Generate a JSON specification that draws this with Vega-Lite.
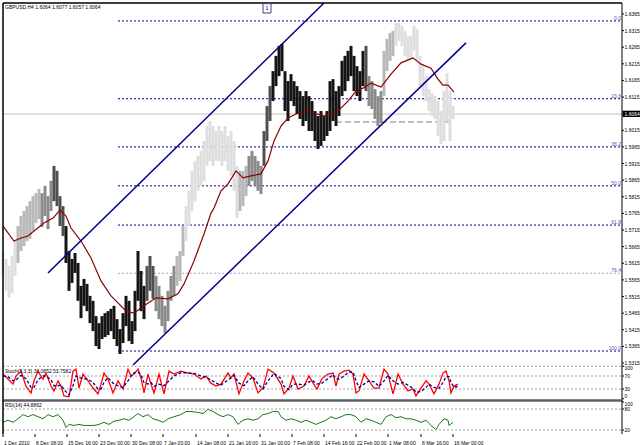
{
  "$schema": "https://vega.github.io/schema/vega-lite/v6.json",
  "padding": 0,
  "background": "white",
  "spacing": 0,
  "bounds": "flush",
  "config": {"view": {"stroke": null}, "font": "Liberation Sans", "axis": {"title": null}},
  "datasets": {
    "price": [
      {"b":2,"h":1.5652,"l":1.5577,"t":"e"},{"b":5,"h":1.5628,"l":1.5532,"t":"e"},{"b":8,"h":1.5607,"l":1.5511,"t":"e"},{"b":11,"h":1.5637,"l":1.5526,"t":"e"},{"b":14,"h":1.5682,"l":1.5577,"t":"e"},
      {"b":17,"h":1.5727,"l":1.5616,"t":"d"},{"b":20,"h":1.5757,"l":1.5652,"t":"d"},{"b":23,"h":1.5772,"l":1.5667,"t":"d"},{"b":26,"h":1.5787,"l":1.5682,"t":"d"},{"b":29,"h":1.5802,"l":1.5688,"t":"d"},
      {"b":32,"h":1.5817,"l":1.5712,"t":"d"},{"b":35,"h":1.5826,"l":1.5736,"t":"d"},{"b":38,"h":1.5839,"l":1.5748,"t":"d"},{"b":41,"h":1.5826,"l":1.5724,"t":"c"},{"b":44,"h":1.5848,"l":1.5757,"t":"c"},
      {"b":47,"h":1.5817,"l":1.5718,"t":"c"},{"b":50,"h":1.5863,"l":1.5772,"t":"c"},{"b":53,"h":1.5908,"l":1.5802,"t":"b"},{"b":56,"h":1.5893,"l":1.5787,"t":"b"},{"b":59,"h":1.5817,"l":1.5727,"t":"b"},
      {"b":62,"h":1.5787,"l":1.5697,"t":"b"},{"b":65,"h":1.5727,"l":1.5616,"t":"a"},{"b":68,"h":1.5652,"l":1.5532,"t":"a"},{"b":71,"h":1.5628,"l":1.5556,"t":"a"},{"b":74,"h":1.5646,"l":1.5586,"t":"a"},
      {"b":77,"h":1.5616,"l":1.5502,"t":"a"},{"b":80,"h":1.5547,"l":1.5450,"t":"a"},{"b":83,"h":1.5568,"l":1.5487,"t":"a"},{"b":86,"h":1.5553,"l":1.5471,"t":"a"},{"b":89,"h":1.5517,"l":1.5435,"t":"a"},
      {"b":92,"h":1.5502,"l":1.5411,"t":"a"},{"b":95,"h":1.5456,"l":1.5366,"t":"a"},{"b":98,"h":1.5435,"l":1.5357,"t":"a"},{"b":101,"h":1.5456,"l":1.5387,"t":"a"},{"b":104,"h":1.5465,"l":1.5393,"t":"a"},
      {"b":107,"h":1.5471,"l":1.5399,"t":"a"},{"b":110,"h":1.5478,"l":1.5411,"t":"a"},{"b":113,"h":1.5487,"l":1.5387,"t":"a"},{"b":116,"h":1.5447,"l":1.5366,"t":"a"},{"b":119,"h":1.5417,"l":1.5342,"t":"a"},
      {"b":122,"h":1.5465,"l":1.5375,"t":"a"},{"b":125,"h":1.5517,"l":1.5426,"t":"a"},{"b":128,"h":1.5502,"l":1.5381,"t":"a"},{"b":131,"h":1.5441,"l":1.5372,"t":"a"},{"b":134,"h":1.5532,"l":1.5411,"t":"a"},
      {"b":137,"h":1.5652,"l":1.5502,"t":"a"},{"b":140,"h":1.5592,"l":1.5471,"t":"a"},{"b":143,"h":1.5547,"l":1.5447,"t":"a"},{"b":146,"h":1.5607,"l":1.5502,"t":"b"},{"b":149,"h":1.5637,"l":1.5532,"t":"b"},
      {"b":152,"h":1.5607,"l":1.5508,"t":"b"},{"b":155,"h":1.5577,"l":1.5471,"t":"c"},{"b":158,"h":1.5547,"l":1.5447,"t":"c"},{"b":161,"h":1.5517,"l":1.5426,"t":"c"},{"b":164,"h":1.5487,"l":1.5405,"t":"c"},
      {"b":167,"h":1.5532,"l":1.5441,"t":"c"},{"b":170,"h":1.5577,"l":1.5502,"t":"c"},{"b":173,"h":1.5607,"l":1.5517,"t":"c"},{"b":176,"h":1.5637,"l":1.5547,"t":"d"},{"b":179,"h":1.5652,"l":1.5562,"t":"d"},
      {"b":182,"h":1.5727,"l":1.5637,"t":"d"},{"b":185,"h":1.5787,"l":1.5682,"t":"e"},{"b":188,"h":1.5833,"l":1.5727,"t":"e"},{"b":191,"h":1.5893,"l":1.5772,"t":"e"},{"b":194,"h":1.5923,"l":1.5802,"t":"e"},
      {"b":197,"h":1.5938,"l":1.5833,"t":"e"},{"b":200,"h":1.5953,"l":1.5848,"t":"e"},{"b":203,"h":1.5983,"l":1.5863,"t":"e"},{"b":206,"h":1.6028,"l":1.5908,"t":"e"},{"b":209,"h":1.6043,"l":1.5923,"t":"e"},
      {"b":212,"h":1.6028,"l":1.5908,"t":"e"},{"b":215,"h":1.6013,"l":1.5923,"t":"e"},{"b":218,"h":1.6028,"l":1.5923,"t":"e"},{"b":221,"h":1.6013,"l":1.5908,"t":"e"},{"b":224,"h":1.6028,"l":1.5923,"t":"e"},
      {"b":227,"h":1.5998,"l":1.5893,"t":"e"},{"b":230,"h":1.6013,"l":1.5878,"t":"e"},{"b":233,"h":1.5983,"l":1.5833,"t":"e"},{"b":236,"h":1.5908,"l":1.5751,"t":"e"},{"b":239,"h":1.5893,"l":1.5772,"t":"d"},
      {"b":242,"h":1.5893,"l":1.5787,"t":"d"},{"b":245,"h":1.5908,"l":1.5817,"t":"d"},{"b":248,"h":1.5938,"l":1.5848,"t":"c"},{"b":251,"h":1.5953,"l":1.5863,"t":"c"},{"b":254,"h":1.5938,"l":1.5848,"t":"c"},
      {"b":257,"h":1.5923,"l":1.5833,"t":"c"},{"b":260,"h":1.5908,"l":1.5823,"t":"c"},{"b":263,"h":1.6013,"l":1.5908,"t":"b"},{"b":266,"h":1.6088,"l":1.5983,"t":"b"},{"b":269,"h":1.6148,"l":1.6043,"t":"b"},
      {"b":272,"h":1.6193,"l":1.6103,"t":"a"},{"b":275,"h":1.6239,"l":1.6148,"t":"a"},{"b":278,"h":1.6269,"l":1.6178,"t":"a"},{"b":281,"h":1.6275,"l":1.6193,"t":"a"},{"b":284,"h":1.6193,"l":1.6073,"t":"a"},
      {"b":287,"h":1.6163,"l":1.6043,"t":"a"},{"b":290,"h":1.6184,"l":1.6103,"t":"a"},{"b":293,"h":1.6163,"l":1.6088,"t":"a"},{"b":296,"h":1.6148,"l":1.6064,"t":"a"},{"b":299,"h":1.6133,"l":1.6049,"t":"a"},
      {"b":302,"h":1.6118,"l":1.6028,"t":"a"},{"b":305,"h":1.6133,"l":1.6043,"t":"a"},{"b":308,"h":1.6118,"l":1.6013,"t":"a"},{"b":311,"h":1.6103,"l":1.6013,"t":"a"},{"b":314,"h":1.6073,"l":1.5983,"t":"a"},
      {"b":317,"h":1.6058,"l":1.5959,"t":"a"},{"b":320,"h":1.6073,"l":1.5968,"t":"a"},{"b":323,"h":1.6058,"l":1.5983,"t":"a"},{"b":326,"h":1.6073,"l":1.5998,"t":"a"},{"b":329,"h":1.6163,"l":1.6013,"t":"a"},
      {"b":332,"h":1.6169,"l":1.6043,"t":"a"},{"b":335,"h":1.6133,"l":1.6028,"t":"a"},{"b":338,"h":1.6148,"l":1.6058,"t":"a"},{"b":341,"h":1.6224,"l":1.6118,"t":"a"},{"b":344,"h":1.6239,"l":1.6133,"t":"a"},
      {"b":347,"h":1.6254,"l":1.6163,"t":"a"},{"b":350,"h":1.6269,"l":1.6178,"t":"a"},{"b":353,"h":1.6239,"l":1.6133,"t":"a"},{"b":356,"h":1.6208,"l":1.6118,"t":"a"},{"b":359,"h":1.6193,"l":1.6103,"t":"a"},
      {"b":362,"h":1.6254,"l":1.6148,"t":"a"},{"b":365,"h":1.6269,"l":1.6133,"t":"b"},{"b":368,"h":1.6178,"l":1.6088,"t":"c"},{"b":371,"h":1.6163,"l":1.6079,"t":"c"},{"b":374,"h":1.6139,"l":1.6049,"t":"c"},
      {"b":377,"h":1.6118,"l":1.6028,"t":"c"},{"b":380,"h":1.6133,"l":1.6037,"t":"c"},{"b":383,"h":1.6254,"l":1.6118,"t":"d"},{"b":386,"h":1.6290,"l":1.6193,"t":"d"},{"b":389,"h":1.6308,"l":1.6224,"t":"d"},
      {"b":392,"h":1.6314,"l":1.6239,"t":"d"},{"b":395,"h":1.6338,"l":1.6269,"t":"e"},{"b":398,"h":1.6338,"l":1.6284,"t":"e"},{"b":401,"h":1.6329,"l":1.6269,"t":"e"},{"b":404,"h":1.6314,"l":1.6239,"t":"e"},
      {"b":407,"h":1.6299,"l":1.6224,"t":"e"},{"b":410,"h":1.6299,"l":1.6229,"t":"e"},{"b":413,"h":1.6329,"l":1.6254,"t":"e"},{"b":416,"h":1.6320,"l":1.6224,"t":"e"},{"b":419,"h":1.6239,"l":1.6148,"t":"e"},
      {"b":422,"h":1.6208,"l":1.6118,"t":"e"},{"b":425,"h":1.6178,"l":1.6103,"t":"e"},{"b":428,"h":1.6139,"l":1.6073,"t":"e"},{"b":431,"h":1.6127,"l":1.6058,"t":"e"},{"b":434,"h":1.6118,"l":1.6049,"t":"e"},
      {"b":437,"h":1.6103,"l":1.5998,"t":"e"},{"b":440,"h":1.6073,"l":1.5974,"t":"e"},{"b":443,"h":1.6133,"l":1.5983,"t":"e"},{"b":446,"h":1.6187,"l":1.6043,"t":"e"},{"b":449,"h":1.6133,"l":1.5983,"t":"e"},
      {"b":452,"h":1.6088,"l":1.6049,"t":"e"}
    ],
    "ma": [
      {"b":2,"m":1.5727},{"b":13,"m":1.5682},{"b":20,"m":1.5691},{"b":27,"m":1.5697},{"b":33,"m":1.5712},{"b":43,"m":1.5736},{"b":52,"m":1.5751},{"b":59,"m":1.5775},{"b":65,"m":1.5757},{"b":70,"m":1.5721},
      {"b":80,"m":1.5682},{"b":90,"m":1.5631},{"b":100,"m":1.5562},{"b":110,"m":1.5517},{"b":118,"m":1.5493},{"b":125,"m":1.5471},{"b":133,"m":1.5465},{"b":143,"m":1.5487},{"b":155,"m":1.5511},{"b":167,"m":1.5508},
      {"b":177,"m":1.5523},{"b":183,"m":1.5553},{"b":193,"m":1.5622},{"b":203,"m":1.5703},{"b":210,"m":1.5766},{"b":213,"m":1.5781},{"b":220,"m":1.5833},{"b":227,"m":1.5854},{"b":235,"m":1.5893},{"b":242,"m":1.5872},
      {"b":250,"m":1.5878},{"b":260,"m":1.5884},{"b":267,"m":1.5923},{"b":273,"m":1.5983},{"b":280,"m":1.6028},{"b":287,"m":1.6052},{"b":297,"m":1.6067},{"b":307,"m":1.6073},{"b":313,"m":1.6067},{"b":323,"m":1.6058},
      {"b":330,"m":1.6064},{"b":337,"m":1.6073},{"b":347,"m":1.6103},{"b":355,"m":1.6133},{"b":362,"m":1.6142},{"b":370,"m":1.6157},{"b":380,"m":1.6145},{"b":390,"m":1.6184},{"b":400,"m":1.6218},{"b":412,"m":1.6233},
      {"b":420,"m":1.6214},{"b":430,"m":1.6202},{"b":437,"m":1.6169},{"b":442,"m":1.6151},{"b":447,"m":1.6151},{"b":453,"m":1.6130}
    ],
    "fib": [
      {"lv":"0.0","p":1.6344},{"lv":"23.6","p":1.6110},{"lv":"38.2","p":1.5965},{"lv":"50.0","p":1.5848},{"lv":"61.8","p":1.5730},{"lv":"76.4","p":1.5585},{"lv":"100.0","p":1.5351}
    ],
    "channel": [
      {"id":"up","b":47,"p":1.5586},{"id":"up","b":323,"p":1.6398},{"id":"lo","b":132,"p":1.5309},{"id":"lo","b":465,"p":1.6278}
    ],
    "ptick": [
      {"v":1.5315},{"v":1.5365},{"v":1.5415},{"v":1.5465},{"v":1.5515},{"v":1.5565},{"v":1.5615},{"v":1.5665},{"v":1.5715},{"v":1.5765},{"v":1.5815},
      {"v":1.5865},{"v":1.5915},{"v":1.5965},{"v":1.6015},{"v":1.6115},{"v":1.6165},{"v":1.6215},{"v":1.6265},{"v":1.6315},{"v":1.6365}
    ],
    "xtick": [
      {"b":2,"lab":"1 Dec 2010"},{"b":34,"lab":"8 Dec 08:00"},{"b":66,"lab":"15 Dec 16:00"},{"b":98,"lab":"23 Dec 00:00"},{"b":130,"lab":"30 Dec 08:00"},
      {"b":162,"lab":"7 Jan 00:00"},{"b":195,"lab":"14 Jan 08:00"},{"b":227,"lab":"21 Jan 16:00"},{"b":259,"lab":"31 Jan 00:00"},{"b":291,"lab":"7 Feb 08:00"},
      {"b":323,"lab":"14 Feb 16:00"},{"b":355,"lab":"22 Feb 00:00"},{"b":387,"lab":"1 Mar 08:00"},{"b":420,"lab":"8 Mar 16:00"},{"b":452,"lab":"16 Mar 00:00"}
    ],
    "stoch": [
      {"b":2,"k":76,"d":70},{"b":7,"k":61,"d":68},{"b":12,"k":45,"d":55},{"b":15,"k":70,"d":58},{"b":20,"k":85,"d":72},{"b":25,"k":39,"d":62},{"b":30,"k":18,"d":35},{"b":33,"k":55,"d":35},
      {"b":37,"k":85,"d":58},{"b":42,"k":60,"d":70},{"b":45,"k":79,"d":70},{"b":50,"k":39,"d":58},{"b":53,"k":24,"d":40},{"b":57,"k":55,"d":40},{"b":60,"k":39,"d":42},{"b":63,"k":9,"d":28},
      {"b":68,"k":6,"d":12},{"b":72,"k":85,"d":40},{"b":75,"k":91,"d":70},{"b":78,"k":33,"d":65},{"b":82,"k":76,"d":62},{"b":87,"k":55,"d":60},{"b":92,"k":33,"d":50},{"b":97,"k":15,"d":30},
      {"b":100,"k":45,"d":30},{"b":103,"k":79,"d":50},{"b":107,"k":61,"d":65},{"b":112,"k":18,"d":48},{"b":117,"k":55,"d":40},{"b":122,"k":30,"d":35},{"b":127,"k":91,"d":55},{"b":130,"k":70,"d":70},
      {"b":133,"k":76,"d":80},{"b":137,"k":91,"d":82},{"b":140,"k":64,"d":75},{"b":143,"k":18,"d":50},{"b":147,"k":76,"d":45},{"b":150,"k":45,"d":50},{"b":153,"k":18,"d":38},{"b":158,"k":76,"d":45},
      {"b":163,"k":15,"d":40},{"b":168,"k":85,"d":55},{"b":173,"k":76,"d":70},{"b":180,"k":85,"d":80},{"b":187,"k":79,"d":80},{"b":193,"k":76,"d":78},{"b":200,"k":61,"d":70},{"b":205,"k":70,"d":66},
      {"b":210,"k":48,"d":58},{"b":215,"k":39,"d":48},{"b":220,"k":45,"d":42},{"b":227,"k":79,"d":58},{"b":230,"k":64,"d":65},{"b":233,"k":76,"d":72},{"b":238,"k":15,"d":48},{"b":243,"k":55,"d":40},
      {"b":247,"k":79,"d":55},{"b":252,"k":64,"d":68},{"b":257,"k":18,"d":45},{"b":262,"k":33,"d":30},{"b":267,"k":91,"d":55},{"b":273,"k":79,"d":78},{"b":280,"k":45,"d":62},{"b":283,"k":15,"d":38},
      {"b":288,"k":33,"d":28},{"b":292,"k":70,"d":45},{"b":297,"k":30,"d":45},{"b":303,"k":39,"d":42},{"b":308,"k":70,"d":52},{"b":312,"k":48,"d":55},{"b":316,"k":30,"d":45},{"b":321,"k":62,"d":48},
      {"b":327,"k":76,"d":62},{"b":332,"k":79,"d":74},{"b":335,"k":39,"d":62},{"b":338,"k":76,"d":60},{"b":343,"k":85,"d":70},{"b":348,"k":88,"d":83},{"b":352,"k":76,"d":82},{"b":355,"k":18,"d":55},
      {"b":358,"k":24,"d":35},{"b":363,"k":76,"d":45},{"b":368,"k":55,"d":55},{"b":373,"k":33,"d":52},{"b":378,"k":33,"d":38},{"b":383,"k":91,"d":55},{"b":387,"k":76,"d":72},{"b":392,"k":15,"d":55},
      {"b":397,"k":76,"d":45},{"b":402,"k":45,"d":50},{"b":407,"k":24,"d":42},{"b":412,"k":30,"d":32},{"b":415,"k":9,"d":20},{"b":420,"k":33,"d":22},{"b":425,"k":55,"d":35},{"b":428,"k":45,"d":45},
      {"b":433,"k":15,"d":35},{"b":438,"k":45,"d":32},{"b":442,"k":79,"d":50},{"b":445,"k":85,"d":68},{"b":448,"k":55,"d":68},{"b":450,"k":18,"d":50},{"b":453,"k":39,"d":35},{"b":457,"k":45,"d":38}
    ],
    "rsi": [
      {"b":2,"r":42},{"b":7,"r":48},{"b":12,"r":42},{"b":17,"r":52},{"b":22,"r":64},{"b":27,"r":58},{"b":32,"r":64},{"b":37,"r":58},{"b":42,"r":52},{"b":47,"r":64},
      {"b":52,"r":58},{"b":57,"r":64},{"b":62,"r":48},{"b":65,"r":27},{"b":68,"r":36},{"b":73,"r":33},{"b":78,"r":36},{"b":83,"r":33},{"b":88,"r":33},{"b":93,"r":33},
      {"b":98,"r":36},{"b":103,"r":42},{"b":108,"r":36},{"b":113,"r":45},{"b":118,"r":48},{"b":123,"r":52},{"b":128,"r":48},{"b":133,"r":58},{"b":137,"r":67},{"b":142,"r":58},
      {"b":147,"r":64},{"b":152,"r":52},{"b":157,"r":48},{"b":162,"r":42},{"b":167,"r":52},{"b":173,"r":58},{"b":180,"r":64},{"b":185,"r":73},{"b":190,"r":73},{"b":197,"r":70},
      {"b":202,"r":67},{"b":207,"r":79},{"b":212,"r":73},{"b":217,"r":64},{"b":222,"r":58},{"b":227,"r":64},{"b":232,"r":58},{"b":237,"r":36},{"b":242,"r":48},{"b":247,"r":52},
      {"b":252,"r":48},{"b":257,"r":52},{"b":262,"r":64},{"b":267,"r":67},{"b":272,"r":73},{"b":277,"r":73},{"b":280,"r":58},{"b":285,"r":48},{"b":290,"r":52},{"b":295,"r":48},
      {"b":300,"r":42},{"b":305,"r":48},{"b":310,"r":42},{"b":315,"r":36},{"b":320,"r":42},{"b":325,"r":48},{"b":330,"r":58},{"b":335,"r":52},{"b":340,"r":58},{"b":345,"r":64},
      {"b":350,"r":64},{"b":355,"r":58},{"b":360,"r":42},{"b":365,"r":52},{"b":370,"r":48},{"b":375,"r":42},{"b":380,"r":36},{"b":385,"r":58},{"b":390,"r":64},{"b":395,"r":55},
      {"b":400,"r":58},{"b":405,"r":52},{"b":410,"r":52},{"b":415,"r":48},{"b":420,"r":42},{"b":425,"r":48},{"b":430,"r":33},{"b":435,"r":21},{"b":438,"r":36},{"b":443,"r":52},
      {"b":447,"r":48},{"b":448,"r":33},{"b":452,"r":42}
    ]
  },
  "vconcat": [
    {
      "width": 619,
      "height": 362,
      "layer": [
        {
          "data": {"values": [{}]},
          "mark": {"type": "rule", "color": "#c0c0c0", "strokeWidth": 1},
          "encoding": {
            "x": {"datum": 2, "type": "quantitative", "scale": {"domain": [2, 621], "nice": false, "zero": false}, "axis": null},
            "x2": {"datum": 621},
            "y": {"datum": 1.6064, "type": "quantitative", "scale": {"domain": [1.5309, 1.6398], "nice": false, "zero": false}, "axis": null}
          }
        },
        {
          "data": {"name": "fib"},
          "mark": {"type": "rule", "strokeDash": [2, 2], "strokeWidth": 1},
          "encoding": {
            "x": {"datum": 117, "type": "quantitative", "axis": null},
            "x2": {"datum": 620},
            "y": {"field": "p", "type": "quantitative", "axis": null},
            "color": {"condition": {"test": "datum.lv === '76.4'", "value": "#a8a8c8"}, "value": "#000080"}
          }
        },
        {
          "data": {"name": "fib"},
          "mark": {"type": "text", "align": "right", "baseline": "bottom", "fontSize": 5, "color": "#5050c0"},
          "encoding": {
            "x": {"datum": 620, "type": "quantitative", "axis": null},
            "y": {"field": "p", "type": "quantitative", "axis": null},
            "text": {"field": "lv"}
          }
        },
        {
          "data": {"values": [{}]},
          "mark": {"type": "rule", "color": "#808080", "strokeDash": [6, 3], "strokeWidth": 1},
          "encoding": {
            "x": {"datum": 335, "type": "quantitative", "axis": null},
            "x2": {"datum": 452},
            "y": {"datum": 1.6040, "type": "quantitative", "axis": null}
          }
        },
        {
          "data": {"name": "price"},
          "mark": {"type": "rule", "strokeWidth": 3},
          "encoding": {
            "x": {"field": "b", "type": "quantitative", "axis": null},
            "y": {"field": "h", "type": "quantitative", "axis": null},
            "y2": {"field": "l"},
            "color": {"field": "t", "type": "nominal", "scale": {"domain": ["a", "b", "c", "d", "e"], "range": ["#151515", "#505050", "#8a8a8a", "#b8b8b8", "#dedede"]}, "legend": null}
          }
        },
        {
          "data": {"name": "ma"},
          "mark": {"type": "line", "color": "#8b0000", "strokeWidth": 1.2},
          "encoding": {
            "x": {"field": "b", "type": "quantitative", "axis": null},
            "y": {"field": "m", "type": "quantitative", "axis": null}
          }
        },
        {
          "data": {"name": "channel"},
          "mark": {"type": "line", "color": "#000090", "strokeWidth": 1.5},
          "encoding": {
            "x": {"field": "b", "type": "quantitative", "axis": null},
            "y": {"field": "p", "type": "quantitative", "axis": null},
            "detail": {"field": "id"}
          }
        },
        {
          "data": {"values": [{}]},
          "mark": {"type": "rule", "color": "#000000", "strokeWidth": 1.5},
          "encoding": {"x": {"datum": 2, "type": "quantitative", "axis": null}}
        },
        {
          "data": {"values": [{}]},
          "mark": {"type": "rule", "color": "#000000", "strokeWidth": 1},
          "encoding": {"x": {"datum": 621, "type": "quantitative", "axis": null}}
        },
        {
          "data": {"values": [{}]},
          "mark": {"type": "rule", "color": "#000000", "strokeWidth": 1.5},
          "encoding": {"y": {"datum": 1.6398, "type": "quantitative", "axis": null}}
        },
        {
          "data": {"name": "ptick"},
          "mark": {"type": "rule", "color": "#000000", "strokeWidth": 1},
          "encoding": {
            "x": {"datum": 621, "type": "quantitative", "axis": null},
            "x2": {"datum": 623},
            "y": {"field": "v", "type": "quantitative", "axis": null}
          }
        },
        {
          "data": {"name": "ptick"},
          "mark": {"type": "text", "align": "left", "baseline": "middle", "fontSize": 5, "color": "#000000"},
          "encoding": {
            "x": {"datum": 623.5, "type": "quantitative", "axis": null},
            "y": {"field": "v", "type": "quantitative", "axis": null},
            "text": {"field": "v", "type": "quantitative", "format": ".4f"}
          }
        },
        {
          "data": {"values": [{}]},
          "mark": {"type": "text", "align": "left", "baseline": "middle", "fontSize": 5, "color": "#000000"},
          "encoding": {
            "x": {"datum": 4, "type": "quantitative", "axis": null},
            "y": {"datum": 1.6386, "type": "quantitative", "axis": null},
            "text": {"value": "GBPUSD,H4  1.6064 1.6077 1.6057 1.6064"}
          }
        },
        {
          "data": {"values": [{}]},
          "mark": {"type": "rect", "fill": "#ffffff", "stroke": "#404080", "strokeWidth": 1},
          "encoding": {
            "x": {"datum": 262, "type": "quantitative", "axis": null},
            "x2": {"datum": 270},
            "y": {"datum": 1.6396, "type": "quantitative", "axis": null},
            "y2": {"datum": 1.6368}
          }
        },
        {
          "data": {"values": [{}]},
          "mark": {"type": "text", "align": "center", "baseline": "middle", "fontSize": 6, "color": "#000080"},
          "encoding": {
            "x": {"datum": 266, "type": "quantitative", "axis": null},
            "y": {"datum": 1.6382, "type": "quantitative", "axis": null},
            "text": {"value": "1"}
          }
        },
        {
          "data": {"values": [{}]},
          "mark": {"type": "rect", "fill": "#000000"},
          "encoding": {
            "x": {"datum": 621.5, "type": "quantitative", "axis": null},
            "x2": {"datum": 640},
            "y": {"datum": 1.6074, "type": "quantitative", "axis": null},
            "y2": {"datum": 1.6055}
          }
        },
        {
          "data": {"values": [{}]},
          "mark": {"type": "text", "align": "left", "baseline": "middle", "fontSize": 5, "color": "#ffffff"},
          "encoding": {
            "x": {"datum": 623.5, "type": "quantitative", "axis": null},
            "y": {"datum": 1.6065, "type": "quantitative", "axis": null},
            "text": {"value": "1.6064"}
          }
        }
      ]
    },
    {
      "width": 619,
      "height": 35,
      "layer": [
        {
          "data": {"values": [{"v": 100}, {"v": 70}, {"v": 30}]},
          "mark": {"type": "rule", "color": "#a0a0a0", "strokeDash": [2, 2], "strokeWidth": 1},
          "encoding": {
            "x": {"datum": 2, "type": "quantitative", "scale": {"domain": [2, 621], "nice": false, "zero": false}, "axis": null},
            "x2": {"datum": 621},
            "y": {"field": "v", "type": "quantitative", "scale": {"domain": [-3.85, 103.85], "nice": false, "zero": false}, "axis": null}
          }
        },
        {
          "data": {"name": "stoch"},
          "mark": {"type": "line", "color": "#ff0000", "strokeWidth": 1.3},
          "encoding": {
            "x": {"field": "b", "type": "quantitative", "axis": null},
            "y": {"field": "k", "type": "quantitative", "axis": null}
          }
        },
        {
          "data": {"name": "stoch"},
          "mark": {"type": "line", "color": "#0000a0", "strokeWidth": 1.3, "strokeDash": [3, 2]},
          "encoding": {
            "x": {"field": "b", "type": "quantitative", "axis": null},
            "y": {"field": "d", "type": "quantitative", "axis": null}
          }
        },
        {
          "data": {"values": [{}]},
          "mark": {"type": "rule", "color": "#000000", "strokeWidth": 1.5},
          "encoding": {"x": {"datum": 2, "type": "quantitative", "axis": null}}
        },
        {
          "data": {"values": [{}]},
          "mark": {"type": "rule", "color": "#000000", "strokeWidth": 1},
          "encoding": {"x": {"datum": 621, "type": "quantitative", "axis": null}}
        },
        {
          "data": {"values": [{"v": 100}, {"v": 70}, {"v": 30}, {"v": 0}]},
          "mark": {"type": "rule", "color": "#000000", "strokeWidth": 1},
          "encoding": {
            "x": {"datum": 621, "type": "quantitative", "axis": null},
            "x2": {"datum": 623},
            "y": {"field": "v", "type": "quantitative", "axis": null}
          }
        },
        {
          "data": {"values": [{"v": 70}, {"v": 30}]},
          "mark": {"type": "text", "align": "left", "baseline": "middle", "fontSize": 5, "color": "#000000"},
          "encoding": {
            "x": {"datum": 623.5, "type": "quantitative", "axis": null},
            "y": {"field": "v", "type": "quantitative", "axis": null},
            "text": {"field": "v", "type": "quantitative"}
          }
        },
        {
          "data": {"values": [{"v": 100}]},
          "mark": {"type": "text", "align": "left", "baseline": "top", "fontSize": 5, "color": "#000000"},
          "encoding": {
            "x": {"datum": 623.5, "type": "quantitative", "axis": null},
            "y": {"field": "v", "type": "quantitative", "axis": null},
            "text": {"field": "v", "type": "quantitative"}
          }
        },
        {
          "data": {"values": [{"v": 0}]},
          "mark": {"type": "text", "align": "left", "baseline": "bottom", "fontSize": 5, "color": "#000000"},
          "encoding": {
            "x": {"datum": 623.5, "type": "quantitative", "axis": null},
            "y": {"field": "v", "type": "quantitative", "axis": null},
            "text": {"field": "v", "type": "quantitative"}
          }
        },
        {
          "data": {"values": [{}]},
          "mark": {"type": "text", "align": "left", "baseline": "middle", "fontSize": 5, "color": "#000000"},
          "encoding": {
            "x": {"datum": 4, "type": "quantitative", "axis": null},
            "y": {"datum": 85, "type": "quantitative", "axis": null},
            "text": {"value": "Stoch(5,3,3) 30.0852 53.7582"}
          }
        }
      ]
    },
    {
      "width": 619,
      "height": 34,
      "layer": [
        {
          "data": {"name": "rsi"},
          "mark": {"type": "line", "color": "#1a7a1a", "strokeWidth": 1},
          "encoding": {
            "x": {"field": "b", "type": "quantitative", "scale": {"domain": [2, 621], "nice": false, "zero": false}, "axis": null},
            "y": {"field": "r", "type": "quantitative", "scale": {"domain": [8.6, 105.7], "nice": false, "zero": false}, "axis": null}
          }
        },
        {
          "data": {"values": [{"v": 80}, {"v": 20}]},
          "mark": {"type": "rule", "color": "#a0a0a0", "strokeDash": [2, 2], "strokeWidth": 1},
          "encoding": {
            "x": {"datum": 2, "type": "quantitative", "axis": null},
            "x2": {"datum": 621},
            "y": {"field": "v", "type": "quantitative", "axis": null}
          }
        },
        {
          "data": {"values": [{}]},
          "mark": {"type": "rule", "color": "#606060", "strokeWidth": 2.5},
          "encoding": {"y": {"datum": 104.3, "type": "quantitative", "axis": null}}
        },
        {
          "data": {"values": [{}]},
          "mark": {"type": "rule", "color": "#000000", "strokeWidth": 1.5},
          "encoding": {"x": {"datum": 2, "type": "quantitative", "axis": null}}
        },
        {
          "data": {"values": [{}]},
          "mark": {"type": "rule", "color": "#000000", "strokeWidth": 1},
          "encoding": {"x": {"datum": 621, "type": "quantitative", "axis": null}}
        },
        {
          "data": {"values": [{"v": 100}, {"v": 80}, {"v": 20}]},
          "mark": {"type": "rule", "color": "#000000", "strokeWidth": 1},
          "encoding": {
            "x": {"datum": 621, "type": "quantitative", "axis": null},
            "x2": {"datum": 623},
            "y": {"field": "v", "type": "quantitative", "axis": null}
          }
        },
        {
          "data": {"values": [{"v": 80}, {"v": 20}]},
          "mark": {"type": "text", "align": "left", "baseline": "middle", "fontSize": 5, "color": "#000000"},
          "encoding": {
            "x": {"datum": 623.5, "type": "quantitative", "axis": null},
            "y": {"field": "v", "type": "quantitative", "axis": null},
            "text": {"field": "v", "type": "quantitative"}
          }
        },
        {
          "data": {"values": [{"v": 100}]},
          "mark": {"type": "text", "align": "left", "baseline": "top", "fontSize": 5, "color": "#000000"},
          "encoding": {
            "x": {"datum": 623.5, "type": "quantitative", "axis": null},
            "y": {"field": "v", "type": "quantitative", "axis": null},
            "text": {"field": "v", "type": "quantitative"}
          }
        },
        {
          "data": {"name": "xtick"},
          "mark": {"type": "rule", "color": "#000000", "strokeWidth": 1},
          "encoding": {
            "x": {"field": "b", "type": "quantitative", "axis": null},
            "y": {"datum": 8.6, "type": "quantitative", "axis": null},
            "y2": {"datum": 0}
          }
        },
        {
          "data": {"name": "xtick"},
          "mark": {"type": "text", "align": "left", "baseline": "middle", "fontSize": 5, "color": "#000000", "dx": 1},
          "encoding": {
            "x": {"field": "b", "type": "quantitative", "axis": null},
            "y": {"datum": -17, "type": "quantitative", "axis": null},
            "text": {"field": "lab"}
          }
        },
        {
          "data": {"values": [{}]},
          "mark": {"type": "text", "align": "left", "baseline": "middle", "fontSize": 5, "color": "#000000"},
          "encoding": {
            "x": {"datum": 4, "type": "quantitative", "axis": null},
            "y": {"datum": 91, "type": "quantitative", "axis": null},
            "text": {"value": "RSI(14) 44.8862"}
          }
        }
      ]
    }
  ]
}
